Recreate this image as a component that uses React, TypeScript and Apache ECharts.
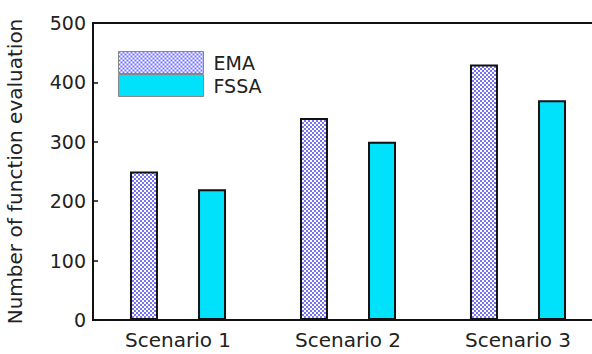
import React, { useEffect, useRef } from "react";
import * as echarts from "echarts";

const categories = ["Scenario 1", "Scenario 2", "Scenario 3"];
const emaValues = [250, 340, 430];
const fssaValues = [220, 300, 370];
const seriesNames = ["EMA", "FSSA"];

const FONT = "DejaVu Sans, Verdana, sans-serif";

function checkerPattern(): HTMLCanvasElement {
  const c = document.createElement("canvas");
  c.width = 4;
  c.height = 4;
  const ctx = c.getContext("2d")!;
  ctx.fillStyle = "#ffffff";
  ctx.fillRect(0, 0, 4, 4);
  ctx.fillStyle = "#7474f4";
  ctx.fillRect(0, 0, 2, 2);
  ctx.fillRect(2, 2, 2, 2);
  return c;
}

export default function App() {
  const ref = useRef<HTMLDivElement>(null);

  useEffect(() => {
    if (!ref.current) return;
    const chart = echarts.init(ref.current, null, { renderer: "svg" });
    const pattern = { image: checkerPattern(), repeat: "repeat" } as any;

    chart.setOption({
      animation: false,
      backgroundColor: "#ffffff",
      textStyle: { fontFamily: FONT },
      grid: {
        left: 93,
        top: 23,
        width: 510,
        height: 297,
        outerBoundsMode: "none",
        containLabel: false,
        show: true,
        borderColor: "#111",
        borderWidth: 2,
        backgroundColor: "transparent",
      },
      legend: {
        orient: "vertical",
        left: 118,
        top: 51,
        padding: 0,
        itemGap: 0,
        itemWidth: 85,
        itemHeight: 22,
        icon: "rect",
        data: seriesNames,
        textStyle: {
          fontFamily: FONT,
          fontSize: 19,
          lineHeight: 22,
          color: "#222",
          padding: [0, 0, 0, 5],
        },
        itemStyle: { borderColor: "#888", borderWidth: 1 },
      },
      xAxis: [
        {
          type: "category",
          data: categories,
          position: "bottom",
          axisLine: { lineStyle: { color: "#111", width: 2 } },
          axisTick: { inside: true, length: 5, lineStyle: { color: "#111", width: 1.5 } },
          axisLabel: { fontFamily: FONT, fontSize: 20, color: "#222", margin: 10 },
        },
        {
          type: "category",
          data: categories,
          position: "top",
          axisLine: { lineStyle: { color: "#111", width: 2 } },
          axisTick: { inside: true, length: 5, lineStyle: { color: "#111", width: 1.5 } },
          axisLabel: { show: false },
        },
      ],
      yAxis: {
        type: "value",
        min: 0,
        max: 500,
        interval: 100,
        name: "Number of function evaluation",
        nameLocation: "middle",
        nameGap: 68,
        nameTextStyle: { fontFamily: FONT, fontSize: 20, color: "#222" },
        axisLine: { show: true, lineStyle: { color: "#111", width: 2 } },
        axisTick: { show: true, inside: true, length: 5, lineStyle: { color: "#111", width: 1.5 } },
        axisLabel: { fontFamily: FONT, fontSize: 19, color: "#222", margin: 7 },
        splitLine: { show: false },
      },
      series: [
        {
          name: seriesNames[0],
          type: "bar",
          data: emaValues,
          barWidth: 28,
          barGap: "143%",
          itemStyle: { color: pattern, borderColor: "#111", borderWidth: 2 },
        },
        {
          name: seriesNames[1],
          type: "bar",
          data: fssaValues,
          barWidth: 28,
          barGap: "143%",
          itemStyle: { color: "#00e1fb", borderColor: "#111", borderWidth: 2 },
        },
      ],
    });

    return () => chart.dispose();
  }, []);

  return <div ref={ref} style={{ width: 592, height: 354, position: "absolute", left: 0, top: 0 }} />;
}
